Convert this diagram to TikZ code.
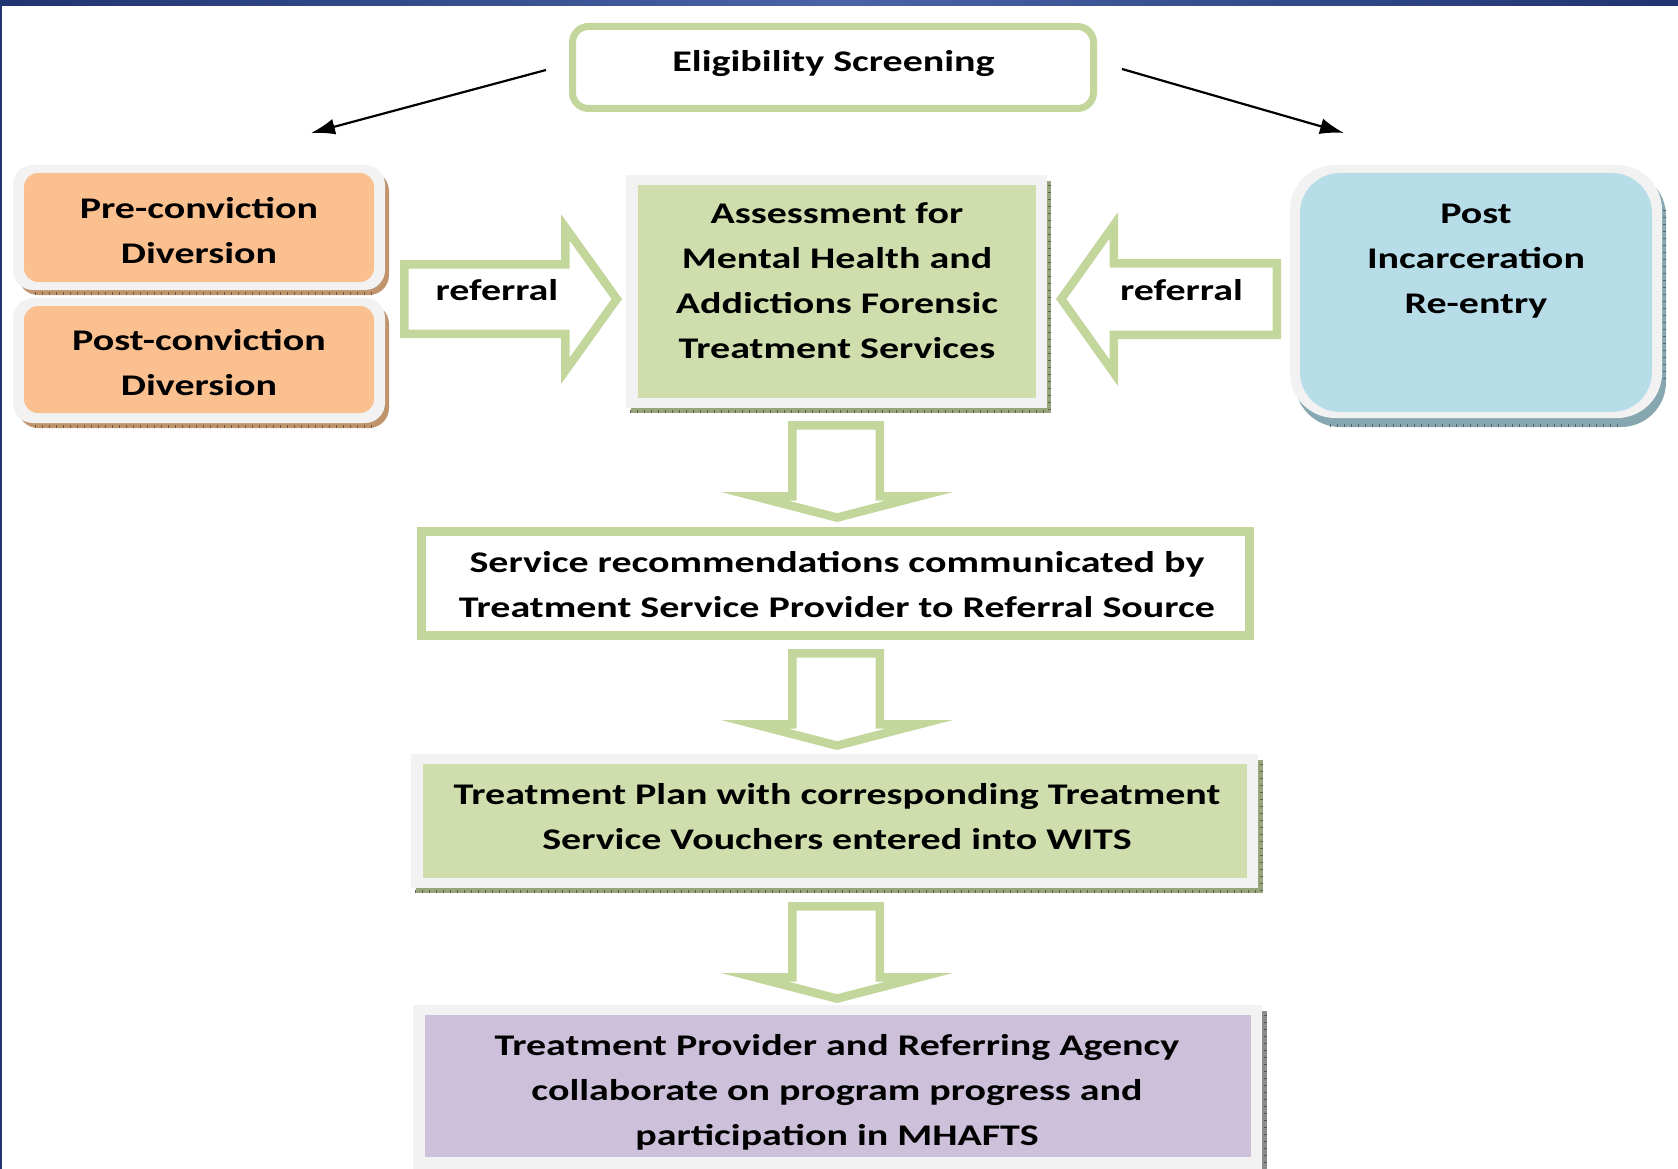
\documentclass[tikz,border=0pt]{standalone}
\usepackage{fontspec}
\setmainfont{Carlito}[FakeStretch=1.333]
\usetikzlibrary{arrows.meta}
\definecolor{navyA}{HTML}{1F3470}
\definecolor{navyB}{HTML}{4A64A6}
\definecolor{gline}{HTML}{C3D69B}
\definecolor{gfill}{HTML}{D0DEAE}
\definecolor{ofill}{HTML}{FAC090}
\definecolor{bfill}{HTML}{B7DDE8}
\definecolor{pfill}{HTML}{CCC0DA}
\definecolor{framegrey}{HTML}{F2F2F2}
\definecolor{oshadow}{HTML}{C0946C}
\definecolor{bshadow}{HTML}{86A6B0}
\definecolor{gshadow}{HTML}{98A47C}
\definecolor{pshadow}{HTML}{8C8C8C}
\newcommand{\hollowpoly}[1]{%
  \fill[white] #1;
  \begin{scope}\clip #1; \draw[gline, line width=17pt, line join=miter] #1; \end{scope}}
\begin{document}
\begin{tikzpicture}[x=1pt, y=-1pt,
  txt/.style={anchor=base, align=center, inner sep=0pt, font=\fontsize{30}{45}\selectfont\bfseries},
  blackarrow/.style={draw=black, line width=2.2pt, -{Latex[length=24pt,width=16pt]}},
  ticks/.style={line width=3pt, dash pattern=on 1pt off 6pt}]
\useasboundingbox (0,0) rectangle (1678,1169);
\fill[white] (0,0) rectangle (1678,1169);
% frame of the slide
\shade[left color=navyA, right color=navyA, middle color=navyB] (0,0) rectangle (1678,6);
\fill[navyA] (0,0) rectangle (2,1169);

% Eligibility screening
\node[draw=gline, line width=7pt, rounded corners=16pt, minimum width=521pt, minimum height=82pt, inner sep=0pt] (elig) at (833,67.5) {};
\node[txt] (eligT) at (833.5,72) {Eligibility Screening};
\coordinate (eL) at (546,70);
\coordinate (eLt) at (311,133);
\coordinate (eR) at (1122,69);
\coordinate (eRt) at (1344,133);
\draw[blackarrow] (eL) -- (eLt);
\draw[blackarrow] (eR) -- (eRt);

% Pre-conviction
\fill[oshadow, rounded corners=20pt] (18,171) rectangle (389,295);
\fill[framegrey, rounded corners=20pt] (13,165) rectangle (385,290);
\draw[oshadow!60!black, ticks] (35,293) -- (372,293);
\node[fill=ofill, rounded corners=14pt, minimum width=350pt, minimum height=109pt, inner sep=0pt] (pre) at (199,227.5) {};
\node[txt] (preT) at (199,263) {Pre-conviction\\Diversion};

% Post-conviction
\fill[oshadow, rounded corners=20pt] (18,304) rectangle (389,428);
\fill[framegrey, rounded corners=20pt] (13,298) rectangle (385,423);
\draw[oshadow!60!black, ticks] (35,426) -- (372,426);
\node[fill=ofill, rounded corners=14pt, minimum width=350pt, minimum height=107pt, inner sep=0pt] (post) at (199,359.5) {};
\node[txt] (postT) at (199,395) {Post-conviction\\Diversion};

% Assessment
\fill[gshadow] (631,181) rectangle (1051,413);
\fill[framegrey] (626,175) rectangle (1047,408);
\draw[gshadow!60!black, ticks] (630,411) -- (1049,411);
\draw[gshadow!60!black, ticks] (1049,185) -- (1049,411);
\node[fill=gfill, minimum width=398pt, minimum height=213pt, inner sep=0pt] (assess) at (837,291.5) {};
\node[txt] (assessT) at (837,358) {Assessment for\\Mental Health and\\Addictions Forensic\\Treatment Services};

% Post incarceration
\fill[bshadow, rounded corners=45pt] (1295,171) rectangle (1666,427);
\fill[framegrey, rounded corners=45pt] (1290,165) rectangle (1662,418);
\draw[bshadow!60!black, ticks] (1330,425) -- (1620,425);
\draw[bshadow!60!black, ticks] (1664,210) -- (1664,385);
\node[fill=bfill, rounded corners=40pt, minimum width=352pt, minimum height=239pt, inner sep=0pt] (reentry) at (1476,292.5) {};
\node[txt] (reentryT) at (1476,313) {Post\\Incarceration\\Re-entry};

% referral arrows
\hollowpoly{(400,260) -- (561,260) -- (561,214) -- (622,299) -- (561,384) -- (561,338) -- (400,338) -- cycle}
\node[txt] (refL) at (497,300) {referral};
\hollowpoly{(1281,259) -- (1118,259) -- (1118,212) -- (1056,299) -- (1118,386) -- (1118,339) -- (1281,339) -- cycle}
\node[txt] (refR) at (1181.5,300) {referral};

% down arrows
\hollowpoly{(788,421) -- (884,421) -- (884,492) -- (953,492) -- (837,522) -- (721,492) -- (788,492) -- cycle}
\hollowpoly{(788,649) -- (884,649) -- (884,720) -- (953,720) -- (837,750) -- (721,720) -- (788,720) -- cycle}
\hollowpoly{(788,902) -- (884,902) -- (884,973) -- (953,973) -- (837,1003) -- (721,973) -- (788,973) -- cycle}

% Service recommendations
\node[draw=gline, line width=9pt, fill=white, minimum width=828pt, minimum height=104.5pt, inner sep=0pt] (serv) at (835.5,583.25) {};
\node[txt] (servT) at (837,617) {Service recommendations communicated by\\Treatment Service Provider to Referral Source};

% Treatment plan
\fill[gshadow] (416,760) rectangle (1263,893);
\fill[framegrey] (411,754) rectangle (1258,888);
\draw[gshadow!60!black, ticks] (415,891) -- (1261,891);
\draw[gshadow!60!black, ticks] (1261,764) -- (1261,891);
\node[fill=gfill, minimum width=824pt, minimum height=114pt, inner sep=0pt] (plan) at (835,821) {};
\node[txt] (planT) at (837,849) {Treatment Plan with corresponding Treatment\\Service Vouchers entered into WITS};

% Collaboration
\fill[pshadow] (418,1011) rectangle (1267,1169);
\fill[framegrey] (413,1005) rectangle (1262,1169);
\draw[pshadow!60!black, ticks] (1265,1015) -- (1265,1169);
\node[fill=pfill, minimum width=826pt, minimum height=142pt, inner sep=0pt] (collab) at (838,1086) {};
\node[txt] (collabT) at (837,1145) {Treatment Provider and Referring Agency\\collaborate on program progress and\\participation in MHAFTS};
\end{tikzpicture}
\end{document}
